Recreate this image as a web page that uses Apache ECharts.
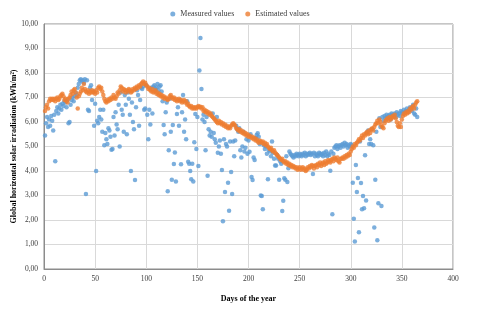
<!DOCTYPE html>
<html>
<head>
<meta charset="utf-8">
<script src="https://cdn.jsdelivr.net/npm/echarts@6/dist/echarts.min.js"></script>
<style>html,body{margin:0;padding:0;background:#fff}#c{width:480px;height:314px}</style>
</head>
<body>
<div id="c"></div>
<script>
var seriesNames = ['Measured values', 'Estimated values'];
var xTicks = [0, 50, 100, 150, 200, 250, 300, 350, 400];
var yTicks = [0, 1, 2, 3, 4, 5, 6, 7, 8, 9, 10];

// Measured values, day 1..365 (kWh/m²)
var measured = [
5.45,5.95,6.20,5.80,6.10,5.85,6.25,6.05,5.65,6.30,
4.40,6.45,6.60,6.35,6.55,6.70,6.50,6.75,6.65,6.85,
6.80,6.60,6.90,5.95,6.00,6.70,6.90,7.00,6.85,7.05,
7.20,7.10,7.40,7.55,7.70,7.75,7.65,7.70,7.60,7.75,
3.06,7.70,6.50,6.45,7.40,7.50,6.90,7.25,5.85,6.75,
4.00,6.05,5.95,6.20,6.50,6.10,5.60,6.50,5.05,5.55,
5.30,5.10,5.75,5.65,5.40,4.87,4.90,6.20,5.45,6.40,
5.90,5.70,6.70,5.00,7.20,6.50,6.30,5.60,7.10,6.70,
5.50,7.20,6.95,6.30,4.00,6.80,6.00,5.70,3.63,6.60,
7.30,7.10,5.85,6.90,7.40,7.35,7.45,6.50,6.55,7.50,
6.30,5.30,6.50,5.90,7.40,6.35,7.45,7.50,7.35,7.40,
7.55,7.30,7.45,7.50,7.25,6.85,5.88,5.50,6.40,6.80,
3.17,4.85,6.95,5.60,3.64,5.88,4.29,4.76,3.57,6.33,
6.60,5.85,6.90,4.28,6.40,7.10,5.60,6.10,5.30,6.85,
4.38,4.30,4.00,3.66,4.30,3.57,5.17,6.33,4.90,6.20,
4.20,8.10,9.43,7.35,6.10,6.30,6.00,4.85,6.20,3.81,
5.70,5.45,5.60,5.40,6.35,5.55,5.30,5.15,6.20,4.75,
5.00,5.25,4.70,4.04,1.95,5.30,3.14,5.10,5.00,3.52,
2.38,5.20,3.96,3.06,5.20,4.60,5.25,5.85,5.70,5.60,
5.75,4.85,4.55,5.00,5.60,4.80,4.95,5.30,4.70,5.25,
4.79,5.50,3.76,3.63,4.55,4.45,5.35,5.47,5.54,5.40,
5.10,3.00,2.98,2.44,5.05,4.90,5.00,4.70,3.66,4.85,
4.80,4.60,5.20,4.75,4.50,4.22,4.22,4.65,4.50,3.64,
4.40,4.30,2.37,2.79,3.70,3.64,4.60,3.55,4.11,4.80,
4.70,4.65,4.60,4.55,4.65,4.60,4.70,4.65,4.60,4.70,
4.65,4.60,4.70,4.65,4.75,4.60,4.70,4.65,4.70,4.75,
4.65,4.70,3.88,4.75,4.60,4.70,4.65,4.60,4.75,4.70,
4.65,4.70,4.60,4.75,4.65,4.80,4.60,4.70,4.65,4.01,
4.80,2.23,4.70,4.95,5.00,5.05,4.90,5.00,5.05,4.95,
5.05,5.10,5.00,5.15,5.05,5.10,4.95,5.05,5.00,5.10,
5.05,3.52,2.05,1.12,4.24,3.14,3.71,1.50,5.20,3.51,
2.44,2.98,2.48,4.64,2.80,5.55,5.65,5.10,5.30,5.10,
5.70,5.05,1.69,3.64,5.60,1.17,2.68,6.15,5.80,2.57,
6.20,6.05,6.25,6.15,6.30,6.20,6.25,6.30,6.10,6.35,
6.30,6.25,6.35,6.20,6.40,6.30,6.35,6.25,6.45,6.40,
6.35,6.50,6.40,6.45,6.55,6.40,6.50,6.60,6.55,6.45,
6.70,6.35,6.30,6.55,6.20
];

// Estimated values, day 1..365 (kWh/m²)
var estimated = [
6.45,6.60,6.70,6.55,6.85,6.95,6.90,6.95,6.90,6.95,
6.85,6.95,7.00,6.90,6.95,7.05,7.10,7.15,7.05,6.90,
6.95,6.85,6.80,6.95,7.00,7.10,7.25,7.15,7.30,7.35,
7.20,7.00,6.55,7.05,7.15,7.25,7.40,7.30,7.55,7.35,
7.25,7.20,7.30,7.15,7.25,7.20,7.30,7.20,7.25,7.15,
7.30,7.20,7.40,7.45,7.35,7.40,7.25,7.10,6.95,6.85,
6.80,6.90,6.85,6.95,6.90,7.00,6.95,7.10,7.00,6.95,
7.05,7.20,7.15,7.30,7.45,7.40,7.25,7.35,7.30,7.20,
7.30,7.25,7.35,7.30,7.20,7.25,7.35,7.30,7.40,7.35,
7.45,7.40,7.50,7.45,7.55,7.60,7.65,7.55,7.60,7.50,
7.45,7.35,7.40,7.30,7.25,7.35,7.20,7.25,7.30,7.15,
7.20,7.10,7.15,7.05,7.10,7.00,7.05,6.95,7.00,6.95,
6.90,6.95,7.05,7.10,7.00,6.95,7.00,6.90,6.95,6.85,
6.90,6.95,6.85,6.90,6.80,6.85,6.90,6.80,6.85,6.70,
6.75,6.65,6.60,6.65,6.55,6.60,6.55,6.60,6.55,6.60,
6.65,6.60,6.62,6.55,6.60,6.45,6.50,6.40,6.45,6.35,
6.40,6.30,6.35,6.25,6.20,6.15,6.10,6.05,6.00,5.95,
6.05,5.95,6.00,5.90,5.95,5.85,5.90,5.80,5.85,5.75,
5.80,5.75,5.85,5.90,5.95,5.90,5.85,5.75,5.70,5.65,
5.70,5.60,5.65,5.55,5.60,5.50,5.55,5.45,5.50,5.40,
5.45,5.40,5.35,5.40,5.30,5.35,5.25,5.30,5.20,5.15,
5.25,5.20,5.15,5.20,5.10,5.15,5.05,5.10,5.00,4.95,
4.90,4.95,4.85,4.80,4.85,4.75,4.70,4.65,4.60,4.55,
4.50,4.45,4.50,4.40,4.35,4.40,4.30,4.35,4.25,4.30,
4.20,4.25,4.15,4.20,4.15,4.10,4.15,4.05,4.10,4.15,
4.05,4.10,4.15,4.05,4.10,4.00,4.05,4.15,4.10,4.20,
4.15,4.25,4.20,4.10,4.20,4.25,4.15,4.30,4.25,4.35,
4.20,4.30,4.35,4.25,4.40,4.30,4.35,4.45,4.40,4.35,
4.45,4.50,4.40,4.55,4.50,4.45,4.55,4.40,4.35,4.50,
4.50,4.55,4.50,4.60,4.55,4.65,4.60,4.70,4.65,4.80,
4.90,5.00,4.95,5.10,5.05,5.15,5.20,5.30,5.25,5.35,
5.45,5.35,5.50,5.45,5.55,5.60,5.50,5.65,5.55,5.70,
5.75,5.65,5.80,5.90,5.95,6.05,5.95,6.10,6.00,5.85,
5.80,5.75,5.95,6.05,6.10,6.15,6.05,6.20,6.10,6.15,
6.25,6.20,6.30,6.15,6.00,5.85,5.80,5.95,5.80,6.10,
6.25,6.35,6.30,6.40,6.35,6.45,6.40,6.55,6.50,6.60,
6.65,6.55,6.70,6.80,6.85
];

function pairs(arr) {
  var out = [];
  for (var i = 0; i < arr.length; i++) out.push([i + 1, arr[i]]);
  return out;
}

var font = '"Liberation Serif", "Times New Roman", serif';
var chart = echarts.init(document.getElementById('c'), null, {renderer: 'canvas'});
chart.setOption({
  animation: false,
  backgroundColor: '#ffffff',
  textStyle: {fontFamily: font},
  color: ['#5B9BD5', '#ED7D31'],
  legend: {
    top: 5,
    left: 'center',
    icon: 'circle',
    itemWidth: 5,
    itemHeight: 5,
    itemGap: 11,
    textStyle: {fontFamily: font, fontSize: 8, color: '#404040'},
    data: seriesNames
  },
  grid: {
    left: 44, right: 27, top: 24, bottom: 45,
    containLabel: false,
    outerBoundsMode: 'none',
    show: true, borderColor: '#8c8c8c', borderWidth: 1
  },
  xAxis: {
    type: 'value',
    min: xTicks[0], max: xTicks[xTicks.length - 1], interval: 50,
    name: 'Days of the year',
    nameLocation: 'middle',
    nameGap: 26,
    nameMoveOverlap: false,
    nameTextStyle: {fontFamily: font, fontSize: 8, fontWeight: 'bold', color: '#000'},
    axisLine: {show: true, lineStyle: {color: '#8c8c8c'}},
    axisTick: {show: false},
    axisLabel: {fontFamily: font, fontSize: 7.5, color: '#404040', margin: 6},
    splitLine: {show: true, lineStyle: {color: '#d9d9d9', width: 1}}
  },
  yAxis: {
    type: 'value',
    min: yTicks[0], max: yTicks[yTicks.length - 1], interval: 1,
    name: 'Global horizontal solar irradiation (kWh/m²)',
    nameLocation: 'middle',
    nameRotate: 90,
    nameGap: 26,
    nameMoveOverlap: false,
    nameTextStyle: {fontFamily: font, fontSize: 8, fontWeight: 'bold', color: '#000'},
    axisLine: {show: true, lineStyle: {color: '#8c8c8c'}},
    axisTick: {show: false},
    axisLabel: {
      fontFamily: font, fontSize: 7.5, color: '#404040', margin: 6,
      formatter: function (v) { return v.toFixed(2).replace('.', ','); }
    },
    splitLine: {show: true, lineStyle: {color: '#d9d9d9', width: 1}}
  },
  series: [
    {name: seriesNames[0], type: 'scatter', symbol: 'circle', symbolSize: 4.5, data: pairs(measured), itemStyle: {color: '#5B9BD5'}},
    {name: seriesNames[1], type: 'scatter', symbol: 'circle', symbolSize: 4.5, data: pairs(estimated), itemStyle: {color: '#ED7D31'}}
  ]
});
</script>
</body>
</html>
